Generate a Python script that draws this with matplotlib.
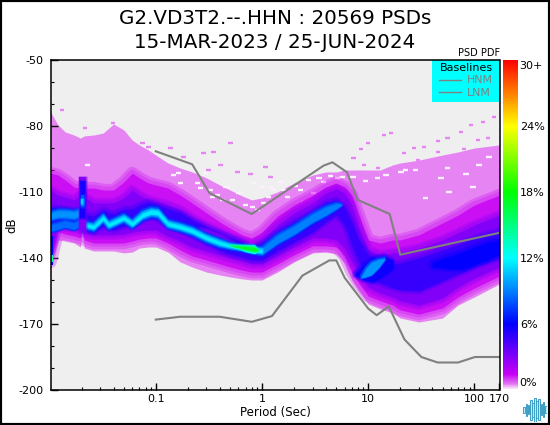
#!/usr/bin/env python3

import matplotlib
matplotlib.use('Agg')
import matplotlib.pyplot as plt
from matplotlib.cm import ScalarMappable
from matplotlib.colors import LinearSegmentedColormap, Normalize
from matplotlib.patches import Rectangle
from matplotlib.ticker import FixedLocator, NullFormatter
import numpy as np

W, H = 550, 425

# noise models
HNM_T = [0.1, 0.22, 0.32, 0.8, 3.8, 4.6, 6.3, 7.9, 15.9, 20, 170]
HNM_DB = [-91.5, -97.4, -110.5, -120, -98, -96.5, -101, -113.5, -120, -138.5, -128.6]
LNM_T = [0.1, 0.17, 0.4, 0.8, 1.24, 2.4, 4.3, 5, 6, 10, 12, 15.6, 21.9, 31.6, 45, 70, 101, 170]
LNM_DB = [-168, -166.7, -166.7, -169, -166.4, -148, -141.1, -141.1, -149, -163, -166, -162,
          -177, -185, -187.5, -187.5, -185, -185]

# PDF bands: dB edges of each contour level, read per period
PERIODS = [0.0102, 0.012, 0.014, 0.017, 0.0195, 0.0203, 0.0212, 0.026, 0.032, 0.04, 0.05, 0.06, 0.07,
           0.085, 0.1, 0.13, 0.17, 0.22, 0.3, 0.4, 0.5, 0.65, 0.8, 1, 1.4, 2, 3, 4, 5, 6, 7, 8, 10, 13,
           17, 20, 30, 50, 70, 100, 172]
PALE_TOP = [-73.6, -79.5, -82.7, -84.1, -85.5, -85, -84.5, -84.1, -83.2, -79.1, -81.8, -86.4, -88.6,
            -90.9, -93.2, -96.8, -99.1, -100.9, -103.6, -106.8, -109.1, -111.8, -113.6, -112.7, -110,
            -105.9, -102.3, -100.9, -100.9, -100, -100, -100, -100, -100, -97.7, -96.8, -95.5, -93.2,
            -91.8, -90, -88.6]
PALE_BOT = [-142.7, -131.8, -132.3, -133.2, -135, -128.2, -135.5, -136.8, -136.8, -136.8, -137.7, -137.3,
            -135.5, -135, -135, -137.3, -141.8, -144.1, -146.4, -147.7, -148.6, -149.5, -150, -150,
            -146.4, -141.8, -137.7, -137.3, -138.2, -142.3, -150, -154.5, -160.9, -163.2, -165, -167.3,
            -169.1, -167.3, -161.4, -157.7, -151.8]
MAG_TOP = [-101.4, -102.3, -104.5, -107.7, -108.2, -108.2, -108.2, -108.2, -109.1, -109.1, -105.5, -101.4,
           -103.6, -105.9, -106.8, -108.2, -111.4, -115, -119.5, -123.6, -126.4, -129.5, -130.9, -128.2,
           -120.9, -115.9, -111.4, -107.7, -105.9, -107.7, -111.4, -119.5, -131.8, -133.2, -131.8, -131.8,
           -129.5, -124.1, -120.5, -115.9, -111.4]
MAG_BOT = [-141.8, -128.2, -129.1, -130, -130.9, -126.4, -131.8, -133.2, -133.2, -133.2, -133.2, -132.3,
           -131.4, -130.9, -130.9, -133.2, -136.4, -139.1, -140.9, -142.7, -144.1, -145.5, -146.4, -146.4,
           -142.7, -138.6, -134.5, -134.5, -135, -139.1, -146.4, -150.9, -157.3, -159.5, -161.4, -163.6,
           -165.5, -162.7, -157.7, -153.6, -148.2]
PUR_TOP = [-109.1, -111.4, -112.3, -113.6, -111.4, -111.4, -112.3, -115, -115, -115, -112.7, -109.1,
           -111.4, -113.6, -114.5, -115.9, -118.2, -121.8, -125.5, -128.2, -130.5, -132.7, -134.1, -131.8,
           -125, -119.5, -115, -110.5, -108.6, -110.5, -115.9, -125, -136.4, -138.6, -137.7, -137.3,
           -135.5, -131.8, -128.6, -125, -120.5]
PUR_BOT = [-137.3, -125.5, -125.9, -126.4, -127.3, -126.4, -128.6, -129.5, -129.5, -129.5, -129.1, -128.2,
           -127.7, -127.3, -127.3, -130, -132.3, -135, -136.8, -138.6, -140, -141.4, -142.7, -142.7,
           -139.1, -135, -130.9, -130.9, -131.8, -135.5, -141.8, -146.4, -153.2, -155.9, -157.7, -159.5,
           -161.4, -158.2, -153.2, -149.1, -144.1]
BLUE_TOP = [-116.8, -117.3, -117.7, -118.6, -118.6, -117.7, -120, -120.9, -118.2, -120, -117.7, -117.7,
            -115.9, -114.5, -115.5, -117.7, -119.5, -122.7, -125.9, -128.6, -130.5, -132.7, -135.5, -133.2,
            -128.2, -123.6, -119.1, -115, -113.6, -116.8, -123.6, -130.9, -138.6, -141.8, -142.7, -142.3,
            -140, -136.4, -134.1, -130.9, -127.7]
BLUE_BOT = [-126.4, -123.6, -124.1, -125, -125.5, -125.5, -127.3, -128.2, -125.5, -127.3, -125.5, -125.5,
            -123.6, -121.8, -121.8, -125.5, -127.3, -130, -133.2, -136.4, -138.2, -139.5, -140.9, -140.9,
            -136.8, -132.7, -128.2, -123.6, -120.5, -125, -134.1, -140.9, -149.1, -151.4, -153.6, -154.5,
            -155, -150.5, -147.3, -144.1, -140]
BAND_LEVELS = [0.5, 1.3, 3, 4.8]

# main ridge of the PDF
RIDGE_T = [0.0215, 0.026, 0.032, 0.036, 0.05, 0.06, 0.075, 0.09, 0.105, 0.13, 0.17, 0.22, 0.3, 0.4, 0.5,
           0.65, 0.8, 1, 1.4, 2, 3, 4, 5, 5.6]
RIDGE_DB = [-125, -125.9, -121.8, -125, -121.8, -124.5, -120.5, -119.1, -119.5, -124.5, -125.9, -127.7,
            -130.9, -133.2, -134.5, -135.5, -136.4, -136.8, -131.4, -127.3, -121.8, -118.6, -116.4, -115.8]
RIDGE_HW = [2.0, 2.3, 2.3, 2.3, 2.3, 2.3, 2.7, 2.7, 2.7, 2.3, 2.3, 2.3, 2.3, 2.3, 1.8, 1.6, 1.8, 2.3, 2.7,
            2.7, 2.7, 2.7, 1.8, 0.3]
RIDGE_LEVELS = [7, 9, 11.5]
RIDGE_SCALE = [1.0, 0.7, 0.35]

# short period double ridge, left of the spike
UPPER_T = [0.0102, 0.012, 0.014, 0.017, 0.0195]
UPPER_DB = [-120.9, -120, -120, -120.5, -119.5]
LOWER_DB = [-126.4, -125.5, -124.5, -125.5, -124.1]

# spike near 0.02 s
SPIKE_LEVELS = [3, 5.5, 8, 11]
SPIKE_LEFT = [0.0188, 0.0194, 0.0198, 0.0199]
SPIKE_RIGHT = [0.022, 0.0214, 0.021, 0.0208]
SPIKE_HI = [-103, -105, -111.5, -113]
SPIKE_LO = [-128, -122, -117, -115.5]

# hot spot around 0.7 s
HOT_T = [0.5, 0.56, 0.62, 0.7, 0.85, 0.92]
HOT_DB = [-134.2, -134.7, -135, -135.5, -136, -136.5]
HOT_HW = [0.2, 0.6, 1.0, 1.6, 2.0, 0.4]
HOT_LEVELS = [12, 14, 17]
HOT_SCALE = [1.0, 0.75, 0.45]

# purple patch above the ridge at 0.3-0.65 s
GAP_T = [0.26, 0.33, 0.42, 0.52, 0.64]
GAP_TOP = [-126, -127.5, -129.5, -132, -134.2]
GAP_BOT = [-127, -131, -132.5, -134, -134.6]

# blob near 10 s and the strong long period band
BLOB_T = [7.5, 9, 11, 14, 17]
BLOB_TOP = [-147, -143, -140, -139, -141]
BLOB_BOT = [-148, -150, -151, -148, -145]
BLOB2_T = [8.6, 9.5, 10.7, 12.5, 14.2]
BLOB2_TOP = [-148.2, -144.5, -141.8, -140.5, -140]
BLOB2_BOT = [-149.1, -148.6, -147.7, -144.5, -140.9]
LONG_T = [40, 60, 80, 100, 130, 172]
LONG_TOP = [-142, -139, -137, -135, -133, -131.8]
LONG_BOT = [-144, -145, -145, -143, -141, -138.2]

# isolated cells above the solid region
SPARSE_T = [0.0131, 0.0216, 0.0397, 0.0614, 0.0746, 0.085, 0.137, 0.182, 0.281, 0.348, 0.505, 1.08, 0.406,
            0.313, 0.587, 0.78, 1.2, 9.9, 14, 16.3, 8.5, 7.3, 9.1, 12.3, 26.9, 33.4, 45.3, 56, 74.6, 92.7,
            120, 153, 108, 134, 79.6, 21.6, 45.3, 29.3, 8.5]
SPARSE_DB = [-72.7, -80.9, -78.6, -90, -87.7, -89.5, -90, -94.1, -92.3, -91.8, -87.7, -98.6, -97.7,
             -100, -100.9, -101.8, -103.2, -87.7, -84.1, -83.2, -90.5, -94.5, -97.7, -99.1, -90, -89.5,
             -86.8, -85.5, -82.7, -79.5, -78.2, -75.9, -86.4, -85.5, -90.5, -92.3, -91.8, -95.5, -100.9]

# near empty cells inside the solid region
HOLE_T = [0.0226, 0.146, 0.163, 0.17, 0.246, 0.293, 0.327, 0.341, 0.424, 0.453, 0.473, 0.6, 0.627, 0.813,
          0.831, 1.01, 1.03, 1.2, 1.28, 1.5, 1.74, 2.31, 2.47, 3.06, 3.8, 5.15, 110, 34.8, 57.4, 48.3,
          96.8, 83.2, 20.3, 9.47, 28, 56, 137, 12.3, 0.263, 0.38, 0.53, 0.7, 0.91, 1.15, 1.59, 2.06, 2.75,
          3.43, 4.4, 5.7, 7.2, 14.7, 22.5]
HOLE_DB = [-97.7, -102.3, -101.4, -105.9, -105.9, -101.4, -109.1, -112.3, -113.6, -107.7, -107.7, -110.5,
           -110.5, -116.8, -105.9, -107.7, -115, -107.7, -109.1, -105.5, -112.3, -109.1, -114.5, -110.5,
           -105.5, -103.6, -97.7, -112.7, -110, -103.6, -107.7, -101.8, -100.9, -105, -100, -99.1, -94.1,
           -103.6, -108.2, -111.4, -113.6, -115.9, -118.2, -112.3, -109.1, -107.3, -104.5, -103.6, -102.7,
           -103.2, -103.2, -102.3, -100]

CB_NODES = [0, 0.5, 1.4, 6, 12, 18, 24, 30]
CB_COLORS = ['#ffffff', '#e47cf2', '#c800f5', '#0000ff', '#00ffff', '#00ff00', '#ffff00', '#ff0000']

# little waveform logo
LOGO_H = [6, 12, 9, 20, 14, 24, 17, 21, 11, 15, 7]

XTICKS = [0.1, 1, 10, 100, 170]
XTICK_LABELS = ['0.1', '1', '10', '100', '170']
YTICKS = [-50, -80, -110, -140, -170, -200]

cmap = LinearSegmentedColormap.from_list('pdf', [(n / 30, c) for n, c in zip(CB_NODES, CB_COLORS)], N=512)
norm = Normalize(0, 30)

plt.rcParams['font.family'] = 'DejaVu Sans'
plt.rcParams['axes.unicode_minus'] = False

fig = plt.figure(figsize=(W / 100, H / 100), dpi=100)
ax = fig.add_axes([50.5 / W, 35 / H, 449 / W, 330 / H])
ax.set_facecolor('#efefef')


def band(t, lo, hi, level, z, soft=()):
    col = cmap(norm(level))
    # wide translucent outlines first, so the contour edges fade
    for w in soft:
        ax.fill_between(t, lo, hi, facecolor='none', edgecolor=col, lw=w, alpha=0.3, zorder=z)
    ax.fill_between(t, lo, hi, color=col, lw=0, zorder=z)


# solid region plus the scattered cells
sparse_t = np.array(SPARSE_T)
ax.hlines(SPARSE_DB, sparse_t / 1.05, sparse_t * 1.05, color=cmap(norm(0.5)), lw=1.7, capstyle='butt', zorder=1)
band(PERIODS, PALE_BOT, PALE_TOP, BAND_LEVELS[0], 1)
hole_t = np.array(HOLE_T)
ax.hlines(HOLE_DB, hole_t / 1.06, hole_t * 1.06, color='#fbf0fb', lw=1.7, capstyle='butt', zorder=1.5)

band(PERIODS, MAG_BOT, MAG_TOP, BAND_LEVELS[1], 2, soft=(9, 5))
band(PERIODS, PUR_BOT, PUR_TOP, BAND_LEVELS[2], 3, soft=(7, 4))
band(PERIODS, BLUE_BOT, BLUE_TOP, BAND_LEVELS[3], 4, soft=(5, 2.5))
band(LONG_T, LONG_BOT, LONG_TOP, 6, 4.5, soft=(5, 2.5))
band(BLOB_T, BLOB_BOT, BLOB_TOP, 5.8, 4.5, soft=(4, 2))
band(GAP_T, GAP_BOT, GAP_TOP, 3, 4.8, soft=(1.5,))

ridge_db = np.array(RIDGE_DB)
ridge_hw = np.array(RIDGE_HW)
for k, (lev, sc) in enumerate(zip(RIDGE_LEVELS, RIDGE_SCALE)):
    t = np.array(RIDGE_T)
    keep = t <= 1.0 if lev > 10 else t > 0
    band(t[keep], (ridge_db - ridge_hw * sc)[keep], (ridge_db + ridge_hw * sc)[keep], lev, 5 + k * 0.1, soft=(2.5, 1.2))
    hw = 2.5 * sc
    band(UPPER_T, np.array(UPPER_DB) - hw, np.array(UPPER_DB) + hw, min(lev, 9.5), 5 + k * 0.1, soft=(2.5, 1.2))
    band(UPPER_T, np.array(LOWER_DB) - hw * 0.8, np.array(LOWER_DB) + hw * 0.8, min(lev, 8.5), 5 + k * 0.1, soft=(2.5, 1.2))

hot_db = np.array(HOT_DB)
hot_hw = np.array(HOT_HW)
for k, (lev, sc) in enumerate(zip(HOT_LEVELS, HOT_SCALE)):
    band(HOT_T, hot_db - hot_hw * sc, hot_db + hot_hw * sc, lev, 6 + k * 0.1, soft=(1.5,))

band(BLOB2_T, BLOB2_BOT, BLOB2_TOP, 9.5, 6, soft=(2.5, 1.2))

for lev, left, right, hi, lo in zip(SPIKE_LEVELS, SPIKE_LEFT, SPIKE_RIGHT, SPIKE_HI, SPIKE_LO):
    band([left, right], [lo, lo], [hi, hi], lev, 6.5 + lev / 100, soft=(2, 1))

# left edge of the grid
band([0.0102, 0.0108], [-143, -143], [-130, -130], 6, 6.5)
band([0.0102, 0.0107], [-141.8, -141.8], [-138.6, -138.6], 14, 6.6)

ax.plot(HNM_T, HNM_DB, color='#808080', lw=1.5, label='HNM', zorder=8)
ax.plot(LNM_T, LNM_DB, color='#808080', lw=1.5, label='LNM', zorder=8)

ax.set_xscale('log')
ax.set_xlim(0.0102, 172)
ax.set_ylim(-200, -50)
ax.xaxis.set_major_locator(FixedLocator(XTICKS))
ax.set_xticklabels(XTICK_LABELS)
ax.xaxis.set_minor_formatter(NullFormatter())
ax.set_yticks(YTICKS)
ax.set_yticks(np.arange(-200, -49, 10), minor=True)
ax.tick_params(which='major', direction='in', length=5, width=1, labelsize=8, pad=3)
ax.tick_params(which='minor', direction='in', length=2.5, width=0.8)
ax.tick_params(axis='y', which='major', pad=5)
ax.set_xlabel('Period (Sec)', fontsize=8.5, labelpad=1)
ax.set_ylabel('dB', fontsize=8.5)
ax.yaxis.set_label_coords(-32 / 449, 0.5)
for s in ax.spines.values():
    s.set_linewidth(1.1)
    s.set_zorder(10)

# cyan box is wider than the legend contents
ax.add_patch(Rectangle((381.5 / 449, 288 / 330), 67.5 / 449, 42 / 330, transform=ax.transAxes,
                       facecolor='#00ffff', edgecolor='none', zorder=8.5))
leg = ax.legend(title='Baselines', loc='upper center', bbox_to_anchor=(415.5 / 449, 1), borderaxespad=0,
                fontsize=7.8, title_fontsize=8, frameon=False, labelcolor='#808080',
                labelspacing=0.2, handlelength=2.0, handletextpad=0.5, borderpad=0.3)
for line in leg.get_lines():
    line.set_linewidth(1)
leg.set_zorder(9)

fig.text(275 / W, 1 - 19 / H, 'G2.VD3T2.--.HHN : 20569 PSDs', ha='center', va='center', fontsize=14.3)
fig.text(275 / W, 1 - 42 / H, '15-MAR-2023 / 25-JUN-2024', ha='center', va='center', fontsize=14.3)
fig.text(500 / W, 1 - 53.5 / H, 'PSD PDF', ha='right', va='center', fontsize=7)

cax = fig.add_axes([503 / W, 35 / H, 15 / W, 330 / H])
cb = fig.colorbar(ScalarMappable(norm=norm, cmap=cmap), cax=cax)
cb.outline.set_visible(False)
cb.set_ticks([6, 12, 18, 24], labels=['6%', '12%', '18%', '24%'])
cb.ax.minorticks_off()
cb.ax.tick_params(length=0, labelsize=8, pad=1.5)
cax.text(1.07, 29.45, '30+', transform=cax.get_yaxis_transform(), va='center', fontsize=8)
cax.text(1.07, 0.64, '0%', transform=cax.get_yaxis_transform(), va='center', fontsize=8)

lax = fig.add_axes([523 / W, 3 / H, 24 / W, 25 / H])
lax.axis('off')
logo_h = np.array(LOGO_H)
lax.bar(np.arange(len(logo_h)), logo_h, bottom=-logo_h / 2, width=0.85, color='#bfe9f5', edgecolor='#3f9fc6', lw=0.7)
lax.set_ylim(-12.5, 12.5)
lax.set_xlim(-0.6, len(logo_h) - 0.4)

fig.add_artist(Rectangle((0, 0), 1, 1, transform=fig.transFigure, fill=False, edgecolor='black', lw=3))

fig.savefig('out.png', dpi=100)
